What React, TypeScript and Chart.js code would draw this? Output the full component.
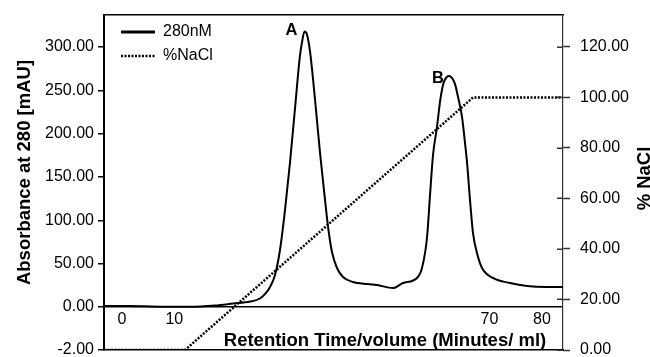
import React, { useEffect, useRef } from 'react';
import { Chart, registerables } from 'chart.js';

Chart.register(...registerables);

// Retention time (minutes) and absorbance at 280 (mAU)
const absTime = [
  -3.4, 1.55, 7.26, 12.98, 17.74, 21.16, 24.4, 26.3, 27.45, 28.21, 29.16, 30.11, 31.06, 32.02,
  32.97, 33.92, 34.3, 34.78, 35.25, 35.83, 36.78, 37.73, 38.68, 39.25, 40.01, 40.97, 42.11,
  44.01, 46.87, 48.58, 51.63, 53.53, 56.2, 57.15, 58.1, 58.68, 59.25, 60.01, 60.58, 61.15,
  61.72, 62.29, 62.86, 63.43, 64.01, 64.77, 65.34, 65.72, 66.29, 66.86, 67.62, 68.58, 70.67,
  73.91, 77.14, 80.95, 84.0,
];
const absValue = [
  1.2, 1.2, 0.3, 0.2, 1.7, 4.0, 6.3, 9.8, 16.2, 23.1, 36.9, 65.8, 111.5, 166.8,
  229.1, 290.3, 305.3, 317.9, 314.4, 294.8, 239.4, 178.2, 124.0, 92.9, 63.5, 45.0, 34.6,
  28.8, 26.5, 25.4, 21.9, 27.7, 33.5, 45.0, 79.6, 129.2, 175.4, 207.7, 236.6, 256.2,
  264.3, 266.6, 264.3, 257.4, 242.4, 219.3, 189.3, 167.4, 123.6, 85.5, 62.3, 45.0, 33.5,
  27.7, 24.2, 23.1, 23.1,
];

// NaCl gradient (%)
const naclTime = [-3.4, 12.02, 66.86, 84.0];
const naclValue = [0, 0, 100, 100];

// Axes
const xMin = -3.4;
const xMax = 84.0;
const xTickValues = [0, 10, 70, 80];
const leftMin = -49.6;
const leftMax = 336.9;
const leftTickValues = [-49.6, 0, 50, 100, 150, 200, 250, 300];
const leftTickLabels = ['-2.00', '0.00', '50.00', '100.00', '150.00', '200.00', '250.00', '300.00'];
const rightMin = 0;
const rightMax = 132.67;
const rightTickValues = [0, 20, 40, 60, 80, 100, 120];

// Peak annotations
const peakNames = ['A', 'B'];
const peakTimes = [34.78, 62.29];
const peakValues = [317.9, 266.6];

const seriesLabels = ['280nM', '%NaCl'];
const xTitle = 'Retention Time/volume (Minutes/ ml)';
const leftTitle = 'Absorbance at 280 [mAU]';
const rightTitle = '% NaCl';

const FONT = 'Liberation Sans, Arial, Helvetica, sans-serif';

export default function App() {
  const canvasRef = useRef<HTMLCanvasElement | null>(null);

  useEffect(() => {
    document.body.style.margin = '0';
    const canvas = canvasRef.current;
    if (!canvas) return;

    const overlay = {
      id: 'overlayText',
      afterLayout(chart: any) {
        const lg = chart.legend;
        if (lg) {
          const h = lg.height;
          lg.left = chart.chartArea.left + 9;
          lg.top = chart.chartArea.top + 1;
          lg.bottom = lg.top + h;
        }
      },
      afterDraw(chart: any) {
        const ctx = chart.ctx;
        const xs = chart.scales.x;
        const yl = chart.scales.yL;
        const yr = chart.scales.yR;
        ctx.save();
        // inward half of the right-axis tick marks
        ctx.strokeStyle = '#333';
        ctx.lineWidth = 1.5;
        ctx.beginPath();
        rightTickValues.forEach((v) => {
          const py = Math.round(yr.getPixelForValue(v)) + 0.25;
          ctx.moveTo(yr.left - 6, py);
          ctx.lineTo(yr.left, py);
        });
        ctx.stroke();

        ctx.fillStyle = '#000';
        ctx.textBaseline = 'alphabetic';
        ctx.textAlign = 'center';
        ctx.font = `bold 18.5px ${FONT}`;
        ctx.fillText(xTitle, 385, 346);

        ctx.save();
        ctx.translate(30, 172.5);
        ctx.rotate(-Math.PI / 2);
        ctx.fillText(leftTitle, 0, 0);
        ctx.restore();

        ctx.save();
        ctx.translate(650, 178.5);
        ctx.rotate(-Math.PI / 2);
        ctx.fillText(rightTitle, 0, 0);
        ctx.restore();

        ctx.font = `bold 16.5px ${FONT}`;
        const offs = [[-13, 4], [-11, 7]];
        peakNames.forEach((n, i) => {
          const px = xs.getPixelForValue(peakTimes[i]);
          const py = yl.getPixelForValue(peakValues[i]);
          ctx.fillText(n, px + offs[i][0], py + offs[i][1]);
        });
        ctx.restore();
      },
    };

    const chart = new Chart(canvas, {
      type: 'line',
      data: {
        datasets: [
          {
            label: seriesLabels[0],
            data: absTime.map((t, i) => ({ x: t, y: absValue[i] })),
            borderColor: '#000',
            backgroundColor: '#000',
            borderWidth: 2,
            pointRadius: 0,
            cubicInterpolationMode: 'monotone',
            yAxisID: 'yL',
            xAxisID: 'x',
          },
          {
            label: seriesLabels[1],
            data: naclTime.map((t, i) => ({ x: t, y: naclValue[i] })),
            borderColor: '#000',
            backgroundColor: '#000',
            borderWidth: 2.5,
            borderDash: [2, 1.5],
            pointRadius: 0,
            tension: 0,
            yAxisID: 'yR',
            xAxisID: 'x',
          },
        ],
      },
      options: {
        animation: false,
        responsive: false,
        events: [],
        layout: { padding: { top: 15, bottom: 7, left: 0, right: 0 } },
        plugins: {
          tooltip: { enabled: false },
          legend: {
            position: 'chartArea',
            align: 'start',
            labels: {
              usePointStyle: true,
              pointStyle: 'line',
              pointStyleWidth: 34,
              padding: 8,
              color: '#000',
              font: { family: FONT, size: 16 },
              generateLabels: (c: any) =>
                c.data.datasets.map((ds: any, i: number) => ({
                  text: ds.label,
                  fillStyle: '#000',
                  strokeStyle: '#000',
                  fontColor: '#000',
                  lineWidth: i === 0 ? 2.8 : 2.5,
                  lineDash: ds.borderDash || [],
                  lineCap: 'butt',
                  pointStyle: 'line',
                  hidden: false,
                  datasetIndex: i,
                })),
            },
          },
        },
        scales: {
          x: {
            type: 'linear',
            position: 'bottom',
            min: xMin,
            max: xMax,
            afterBuildTicks: (s: any) => {
              s.ticks = xTickValues.map((v) => ({ value: v }));
            },
            afterFit: (s: any) => {
              s.height = 0;
              s.paddingLeft = 0;
              s.paddingRight = 0;
            },
            grid: { display: false, drawTicks: false },
            border: { display: true, color: '#000', width: 1.5 },
            ticks: {
              mirror: true,
              padding: 20.5,
              autoSkip: false,
              maxRotation: 0,
              minRotation: 0,
              color: '#000',
              font: { family: FONT, size: 16 },
              callback: (v: any) => String(v),
            },
          },
          xTop: {
            type: 'linear',
            position: 'top',
            min: xMin,
            max: xMax,
            afterFit: (s: any) => {
              s.height = 0;
              s.paddingLeft = 0;
              s.paddingRight = 0;
            },
            grid: { display: false, drawTicks: false },
            border: { display: true, color: '#000', width: 1.5 },
            ticks: { display: false },
          },
          yL: {
            type: 'linear',
            position: 'left',
            min: leftMin,
            max: leftMax,
            afterBuildTicks: (s: any) => {
              s.ticks = leftTickValues.map((v) => ({ value: v }));
            },
            afterFit: (s: any) => {
              s.width = 104;
              s.paddingTop = 0;
              s.paddingBottom = 0;
            },
            grid: {
              display: true,
              drawOnChartArea: true,
              drawTicks: true,
              tickLength: 6,
              tickWidth: 1.5,
              tickColor: '#000',
              lineWidth: 1.5,
              color: (c: any) => (c.tick && c.tick.value === 0 ? '#000' : 'rgba(0,0,0,0)'),
            },
            border: { display: true, color: '#000', width: 2 },
            ticks: {
              padding: 4,
              color: '#000',
              font: { family: FONT, size: 16 },
              callback: (_v: any, i: number) => leftTickLabels[i],
            },
          },
          yR: {
            type: 'linear',
            position: 'right',
            min: rightMin,
            max: rightMax,
            afterBuildTicks: (s: any) => {
              s.ticks = rightTickValues.map((v) => ({ value: v }));
            },
            afterFit: (s: any) => {
              s.width = 87;
              s.paddingTop = 0;
              s.paddingBottom = 0;
            },
            grid: {
              display: true,
              drawOnChartArea: false,
              drawTicks: true,
              tickLength: 7,
              tickWidth: 1.5,
              tickColor: '#333',
              color: '#333',
            },
            border: { display: true, color: '#333', width: 1.2 },
            ticks: {
              padding: 10,
              color: '#000',
              font: { family: FONT, size: 16 },
              callback: (v: any) => Number(v).toFixed(2),
            },
          },
        },
      },
      plugins: [overlay],
    } as any);

    return () => {
      chart.destroy();
    };
  }, []);

  return (
    <div style={{ width: 650, height: 357 }}>
      <canvas ref={canvasRef} width={650} height={357} style={{ display: 'block' }} />
    </div>
  );
}
